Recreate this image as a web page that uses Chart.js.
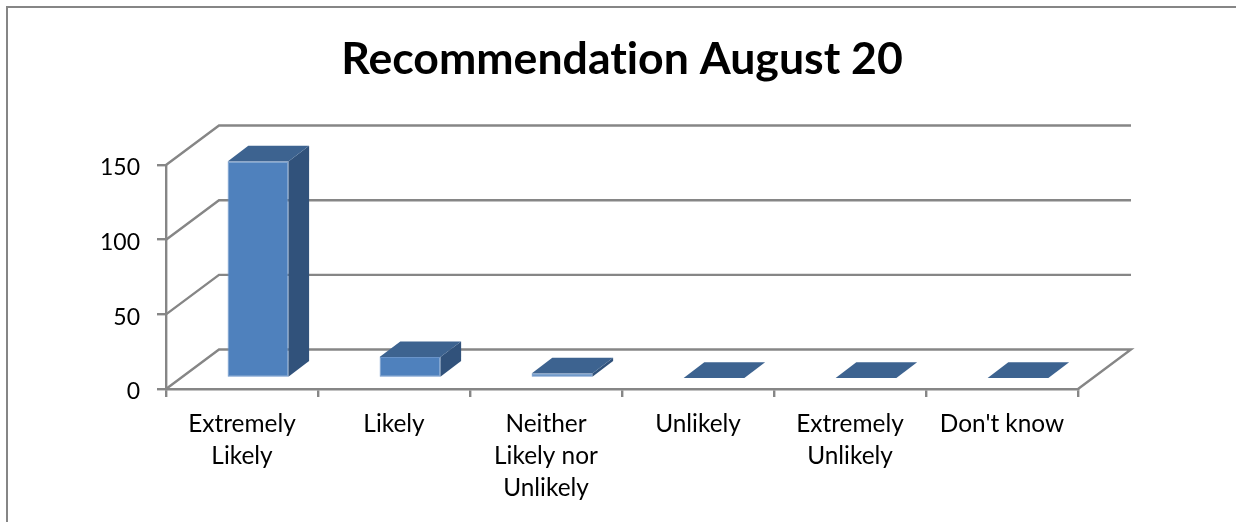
<!DOCTYPE html>
<html>
<head>
<meta charset="utf-8">
<title>Recommendation August 20</title>
<script src="https://cdn.jsdelivr.net/npm/chart.js@4"></script>
<style>
  html, body { margin: 0; padding: 0; background: #fff; overflow: hidden; }
  #wrap { position: relative; width: 1236px; height: 522px; }
</style>
</head>
<body>
<div id="wrap"><canvas id="chart"></canvas></div>
<script>
const titleText = "Recommendation August 20";
const categories = [["Extremely", "Likely"], "Likely", ["Neither", "Likely nor", "Unlikely"], "Unlikely", ["Extremely", "Unlikely"], "Don't know"];
const responses = [145, 14, 3, 0, 0, 0];
const yTicks = [0, 50, 100, 150];

const gray = "#868686";
const frontColor = "#4f81bd";
const topColor = "#3d6390";
const sideColor = "#31527b";
const fontName = "Lato, Carlito, Calibri, sans-serif";

// fake 3d: offset of the back wall, of the bar front and of the bar's own depth
const wall = { dx: 53, dy: 39.5 };
const barFront = { dx: 16, dy: 11 };
const barDepth = { dx: 20.7, dy: 15.7 };

function poly(ctx, pts, fill) {
  ctx.beginPath();
  pts.forEach((p, i) => i ? ctx.lineTo(p[0], p[1]) : ctx.moveTo(p[0], p[1]));
  ctx.closePath();
  ctx.fillStyle = fill;
  ctx.fill();
}

const box3d = {
  id: "box3d",
  beforeDraw(chart) {
    const ctx = chart.ctx;
    // no "ti" ligature in the title
    ctx.textRendering = "optimizeSpeed";
    ctx.save();
    ctx.strokeStyle = gray;
    ctx.lineWidth = 2;
    ctx.beginPath();
    ctx.moveTo(7, 522);
    ctx.lineTo(7, 7);
    ctx.lineTo(1236, 7);
    ctx.stroke();
    ctx.restore();
  },
  beforeDatasetsDraw(chart) {
    const ctx = chart.ctx;
    const { left, right } = chart.chartArea;
    const y = chart.scales.y;
    ctx.save();
    ctx.strokeStyle = gray;
    ctx.lineWidth = 2.4;
    yTicks.forEach(v => {
      const py = y.getPixelForValue(v);
      ctx.beginPath();
      ctx.moveTo(left, py);
      ctx.lineTo(left + wall.dx, py - wall.dy);
      ctx.lineTo(right + wall.dx, py - wall.dy);
      if (v === 0) ctx.lineTo(right, py);
      ctx.stroke();
    });
    chart.getDatasetMeta(0).data.forEach(bar => {
      const l = bar.x - bar.width / 2 + barFront.dx;
      const r = bar.x + bar.width / 2 + barFront.dx;
      const t = bar.y - barFront.dy;
      const b = bar.base - barFront.dy;
      poly(ctx, [[r, t], [r + barDepth.dx, t - barDepth.dy], [r + barDepth.dx, b - barDepth.dy], [r, b]], sideColor);
      poly(ctx, [[l, t], [l + barDepth.dx, t - barDepth.dy], [r + barDepth.dx, t - barDepth.dy], [r, t]], topColor);
    });
    ctx.restore();
  },
  beforeDatasetDraw(chart) {
    chart.ctx.save();
    chart.ctx.translate(barFront.dx, -barFront.dy);
  },
  afterDatasetDraw(chart) {
    chart.ctx.restore();
  }
};

new Chart(document.getElementById("chart"), {
  type: "bar",
  data: {
    labels: categories,
    datasets: [{
      data: responses,
      backgroundColor: frontColor,
      borderColor: "#6a94ca",
      borderWidth: 1,
      borderSkipped: false,
      barPercentage: 0.4,
      categoryPercentage: 1
    }]
  },
  options: {
    responsive: true,
    maintainAspectRatio: false,
    animation: false,
    layout: { padding: { top: 0, right: 158, bottom: 0, left: 0 } },
    plugins: {
      legend: { display: false },
      tooltip: { enabled: false },
      title: {
        display: true,
        text: titleText,
        fullSize: false,
        color: "#000",
        font: { family: fontName, size: 44.6, weight: "bold" },
        padding: { top: 33, bottom: 78.5 }
      }
    },
    scales: {
      x: {
        offset: true,
        afterFit(s) { s.height = 133; },
        border: { color: gray, width: 2.4 },
        grid: { drawOnChartArea: false, offset: true, color: gray, lineWidth: 2.4, tickLength: 8 },
        ticks: {
          color: "#000",
          autoSkip: false,
          maxRotation: 0,
          padding: 11,
          font: { family: fontName, size: 24.4, lineHeight: 32 / 24.4 }
        }
      },
      y: {
        min: 0,
        max: 150,
        afterFit(s) { s.width = 166; },
        afterBuildTicks(s) { s.ticks = yTicks.map(v => ({ value: v })); },
        border: { color: gray, width: 2.4 },
        grid: { drawOnChartArea: false, color: gray, lineWidth: 2.4, tickLength: 9 },
        ticks: {
          color: "#000",
          padding: 17,
          // empty first line pushes the number a little below its tick, as in the original
          callback: v => ["", String(v)],
          font: { family: fontName, size: 23, lineHeight: "6px" }
        }
      }
    }
  },
  plugins: [box3d]
});
</script>
</body>
</html>
